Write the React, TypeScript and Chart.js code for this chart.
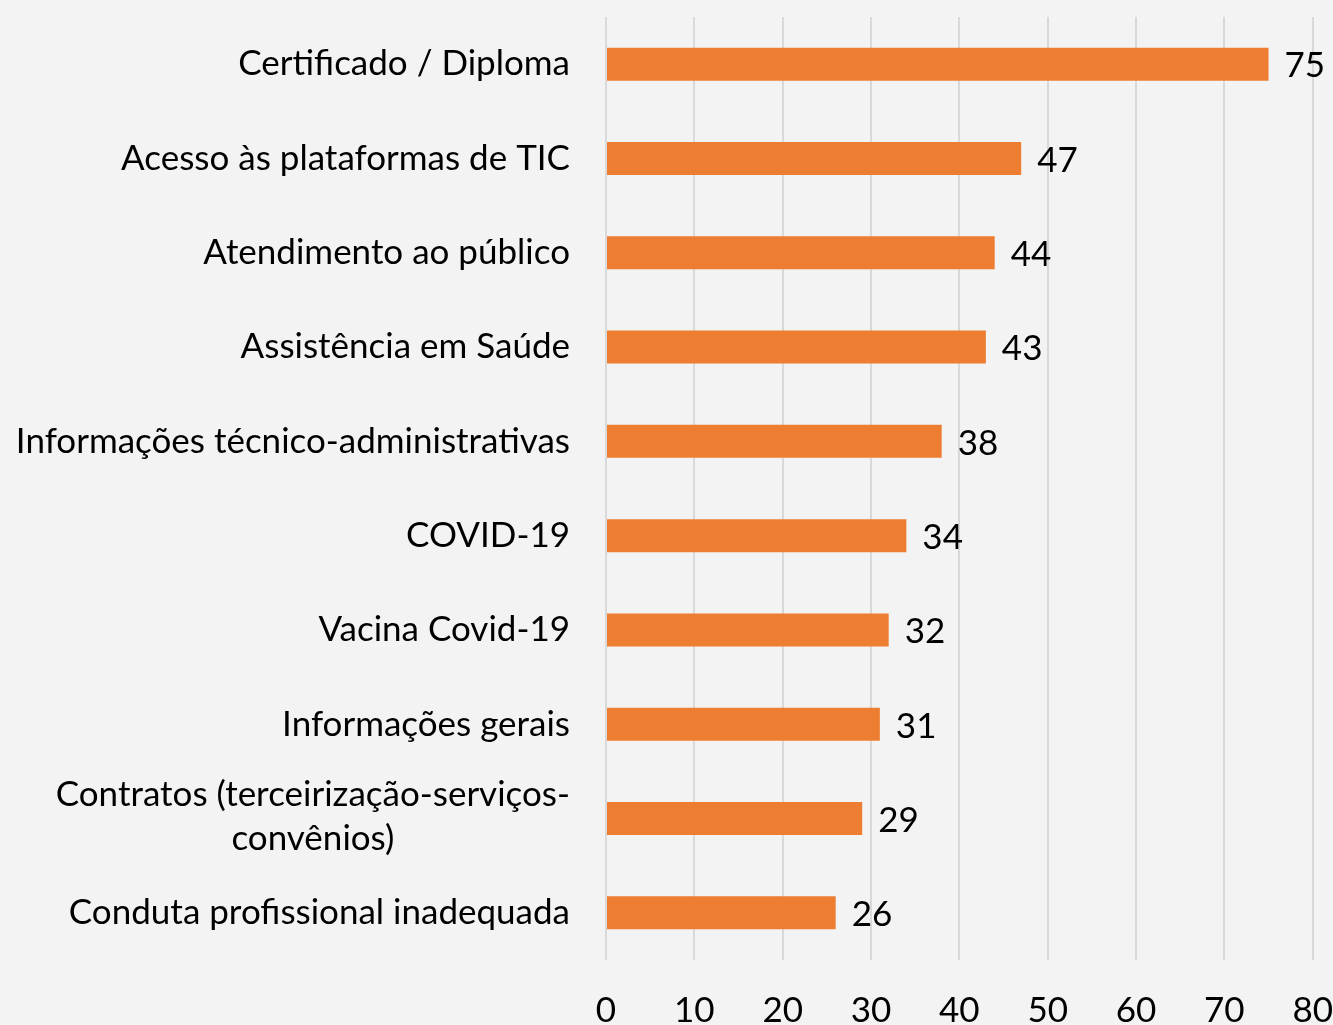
import React, { useEffect, useRef } from "react";
import { Chart, registerables } from "chart.js";

Chart.register(...registerables);

const categories: string[][] = [
  ["Certificado / Diploma"],
  ["Acesso às plataformas de TIC"],
  ["Atendimento ao público"],
  ["Assistência em Saúde"],
  ["Informações técnico-administrativas"],
  ["COVID-19"],
  ["Vacina Covid-19"],
  ["Informações gerais"],
  ["Contratos (terceirização-serviços-", "convênios)"],
  ["Conduta profissional inadequada"],
];
const values: number[] = [75, 47, 44, 43, 38, 34, 32, 31, 29, 26];
const xTicks: number[] = [0, 10, 20, 30, 40, 50, 60, 70, 80];

const FONT = "Lato, 'Open Sans', sans-serif";
const FONT_SIZE = 35;
const BG = "#f3f3f3";
const BAR = "#ED7D31";

export default function App() {
  const ref = useRef<HTMLCanvasElement | null>(null);
  useEffect(() => {
    document.body.style.margin = "0";
    document.body.style.background = BG;
    const canvas = ref.current!;
    const labelPlugin = {
      id: "customLabels",
      afterDatasetsDraw(chart: any) {
        const ctx = chart.ctx;
        const meta = chart.getDatasetMeta(0);
        const yScale = chart.scales.y;
        ctx.save();
        ctx.font = `${FONT_SIZE}px ${FONT}`;
        ctx.fillStyle = "#000";
        ctx.textBaseline = "middle";
        meta.data.forEach((bar: any, i: number) => {
          ctx.textAlign = "left";
          ctx.fillText(String(values[i]), bar.x + 16, bar.y + 2);
        });
        const right = chart.chartArea.left - 36;
        categories.forEach((lines, i) => {
          const y = yScale.getPixelForValue(i);
          if (lines.length === 1) {
            ctx.textAlign = "right";
            ctx.fillText(lines[0], right, y);
          } else {
            const w0 = ctx.measureText(lines[0]).width;
            const cx = right - w0 / 2;
            ctx.textAlign = "center";
            const lh = 44;
            lines.forEach((ln, k) => {
              ctx.fillText(ln, cx, y + (k - (lines.length - 1) / 2) * lh - 2);
            });
          }
        });
        ctx.restore();
      },
    };
    const bgPlugin = {
      id: "bg",
      beforeDraw(chart: any) {
        const ctx = chart.ctx;
        ctx.save();
        ctx.fillStyle = BG;
        ctx.fillRect(0, 0, chart.width, chart.height);
        ctx.restore();
      },
    };
    const chart = new Chart(canvas, {
      type: "bar",
      data: {
        labels: categories.map((c) => c.join(" ")),
        datasets: [
          {
            data: values,
            backgroundColor: BAR,
            borderWidth: 0,
            barPercentage: 0.35,
            categoryPercentage: 1,
          },
        ],
      },
      options: {
        indexAxis: "y",
        animation: false,
        responsive: false,
        maintainAspectRatio: false,
        layout: { padding: { top: 17, right: 0, left: 0, bottom: 0 } },
        plugins: { legend: { display: false }, tooltip: { enabled: false } },
        scales: {
          x: {
            min: 0,
            max: 80,
            afterBuildTicks(scale: any) {
              scale.ticks = xTicks.map((v) => ({ value: v }));
            },
            afterFit(scale: any) {
              scale.height = 65;
            },
            grid: {
              color: "#d9d9d9",
              lineWidth: 2,
              drawTicks: true,
              tickLength: 30,
              tickColor: "rgba(0,0,0,0)",
            },
            border: { display: false },
            ticks: {
              padding: 0,
              color: "#000",
              font: { family: FONT, size: FONT_SIZE },
              maxRotation: 0,
            },
          },
          y: {
            afterFit(scale: any) {
              scale.width = 606;
            },
            grid: { display: false, drawTicks: false },
            border: { display: false },
            ticks: { display: false },
          },
        },
      },
      plugins: [bgPlugin, labelPlugin],
    });
    return () => chart.destroy();
  }, []);
  return (
    <div style={{ background: BG, width: 1333, height: 1025 }}>
      <canvas ref={ref} width={1333} height={1025} style={{ display: "block" }} />
    </div>
  );
}
